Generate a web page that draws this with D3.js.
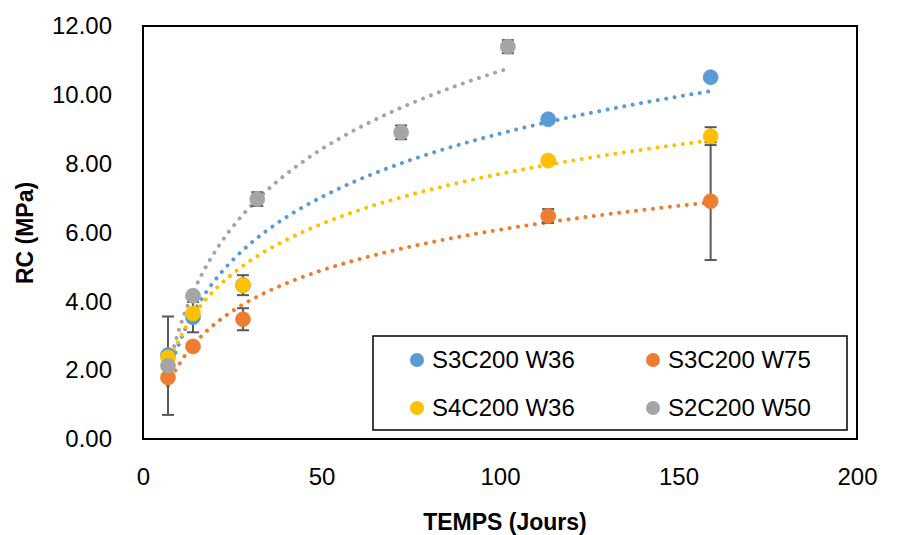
<!DOCTYPE html>
<html><head><meta charset="utf-8">
<script src="https://cdn.jsdelivr.net/npm/d3@7"></script>
<style>
body{margin:0;background:#fff}
text{font-family:"Liberation Sans",Arial,sans-serif;fill:#000}
</style>
</head><body><svg id="c" width="906" height="535"></svg>
<script>
// ---- data ----
const seriesNames = ["S3C200 W36", "S3C200 W75", "S4C200 W36", "S2C200 W50"];
const seriesColors = ["#5B9BD5", "#ED7D31", "#FFC000", "#A5A5A5"];

const s3c200w36Days = [7, 14, 28, 113.5, 159];
const s3c200w36RC   = [2.44, 3.54, 4.47, 9.29, 10.51];
const s3c200w36Err  = [0, 0.44, 0, 0, 0];

const s3c200w75Days = [7, 14, 28, 113.5, 159];
const s3c200w75RC   = [1.79, 2.69, 3.48, 6.48, 6.91];
const s3c200w75Err  = [0, 0, 0.32, 0.2, 1.71];

const s4c200w36Days = [7, 14, 28, 113.5, 159];
const s4c200w36RC   = [2.37, 3.65, 4.47, 8.09, 8.80];
const s4c200w36Err  = [0, 0, 0.29, 0.1, 0.26];

const s2c200w50Days = [7, 14, 32, 72.3, 102.2];
const s2c200w50RC   = [2.13, 4.16, 6.97, 8.91, 11.40];
const s2c200w50Err  = [1.43, 0, 0.2, 0.2, 0.19];

const xTicks = [0, 50, 100, 150, 200];
const yTicks = [0, 2, 4, 6, 8, 10, 12];
const xTitle = "TEMPS (Jours)";
const yTitle = "RC (MPa)";

// ---- build ----
const seriesDays = [s3c200w36Days, s3c200w75Days, s4c200w36Days, s2c200w50Days];
const seriesRC = [s3c200w36RC, s3c200w75RC, s4c200w36RC, s2c200w50RC];
const seriesErr = [s3c200w36Err, s3c200w75Err, s4c200w36Err, s2c200w50Err];
const series = seriesNames.map((name, i) => ({
  name, color: seriesColors[i],
  pts: seriesDays[i].map((d, j) => ({x: d, y: seriesRC[i][j], e: seriesErr[i][j]}))
}));

const svg = d3.select("#c");
const L = 143, R = 857, T = 26, B = 439;
const x = d3.scaleLinear().domain([0, 200]).range([L, R]);
const y = d3.scaleLinear().domain([0, 12]).range([B, T]);

// axes (labels only; frame drawn separately)
const yAxis = svg.append("g").attr("transform", `translate(${L},0)`)
  .call(d3.axisLeft(y).tickValues(yTicks).tickFormat(d3.format(".2f")).tickSize(0).tickPadding(31));
yAxis.select(".domain").remove();
yAxis.selectAll("text").style("font-size", "24px").attr("fill", "#000")
  .style("font-family", '"Liberation Sans",Arial,sans-serif');

const xAxis = svg.append("g").attr("transform", `translate(0,${B})`)
  .call(d3.axisBottom(x).tickValues(xTicks).tickFormat(d3.format("d")).tickSize(0).tickPadding(29));
xAxis.select(".domain").remove();
xAxis.selectAll("text").style("font-size", "24px").attr("fill", "#000")
  .style("font-family", '"Liberation Sans",Arial,sans-serif');

// plot frame
svg.append("rect").attr("x", L).attr("y", T).attr("width", R - L).attr("height", B - T)
  .attr("fill", "none").attr("stroke", "#000").attr("stroke-width", 2);

// trendlines: logarithmic least-squares fit (as Excel)
const line = d3.line().x(d => x(d[0])).y(d => y(d[1]));
series.forEach(s => {
  const lx = s.pts.map(p => Math.log(p.x)), ly = s.pts.map(p => p.y);
  const mx = d3.mean(lx), my = d3.mean(ly);
  const a = d3.sum(lx.map((v, i) => (v - mx) * (ly[i] - my))) / d3.sum(lx.map(v => (v - mx) ** 2));
  const b = my - a * mx;
  const x0 = d3.min(s.pts, p => p.x), x1 = d3.max(s.pts, p => p.x);
  const samples = d3.range(0, 201).map(k => { const xv = x0 + (x1 - x0) * k / 200; return [xv, a * Math.log(xv) + b]; });
  svg.append("path").attr("d", line(samples)).attr("fill", "none")
    .attr("stroke", s.color).attr("stroke-width", 4)
    .attr("stroke-linecap", "round").attr("stroke-dasharray", "0.01 8.5");
});

// error bars
series.forEach(s => {
  s.pts.filter(p => p.e > 0).forEach(p => {
    const g = svg.append("g").attr("stroke", "#595959").attr("stroke-width", 2);
    g.append("line").attr("x1", x(p.x)).attr("x2", x(p.x)).attr("y1", y(p.y - p.e)).attr("y2", y(p.y + p.e));
    [p.y - p.e, p.y + p.e].forEach(v => g.append("line")
      .attr("x1", x(p.x) - 6).attr("x2", x(p.x) + 6).attr("y1", y(v)).attr("y2", y(v)));
  });
});

// markers
series.forEach(s => {
  svg.append("g").selectAll("circle").data(s.pts).join("circle")
    .attr("cx", p => x(p.x)).attr("cy", p => y(p.y)).attr("r", 7.5)
    .attr("fill", s.color).attr("stroke", s.color).attr("stroke-width", 0.75);
});

// axis titles
svg.append("text").attr("x", 505).attr("y", 530).attr("text-anchor", "middle")
  .style("font-size", "23px").style("font-weight", "bold").text(xTitle);
svg.append("text").attr("transform", "translate(33,233) rotate(-90)").attr("text-anchor", "middle")
  .style("font-size", "23px").style("font-weight", "bold").text(yTitle);

// legend
const lg = svg.append("g");
lg.append("rect").attr("x", 373).attr("y", 336).attr("width", 474).attr("height", 94)
  .attr("fill", "#fff").attr("stroke", "#000").attr("stroke-width", 1.5);
const legPos = [[417, 360], [653, 360], [417, 408], [653, 408]];
series.forEach((s, i) => {
  const [lx, ly] = legPos[i];
  lg.append("circle").attr("cx", lx).attr("cy", ly).attr("r", 7).attr("fill", s.color);
  lg.append("text").attr("x", lx + 15).attr("y", ly).attr("dy", "0.35em")
    .style("font-size", "24px").text(s.name);
});
</script>
</body></html>
